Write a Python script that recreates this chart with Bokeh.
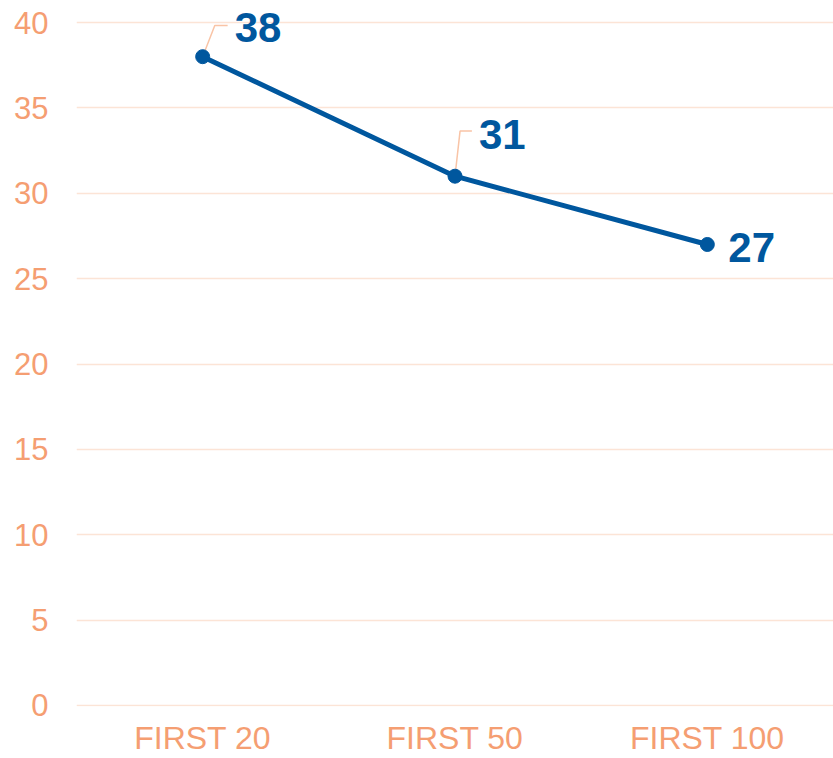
from bokeh.plotting import figure
from bokeh.models import Range1d, FixedTicker, ColumnDataSource
from bokeh.embed import file_html
from bokeh.resources import INLINE
from bokeh.core.properties import value

categories = ["FIRST 20", "FIRST 50", "FIRST 100"]
values = [38, 31, 27]
y_ticks = [0, 5, 10, 15, 20, 25, 30, 35, 40]

# label placement (screen px) and leader offsets (data units)
label_dx = [32, 24, 21]
label_dy = [-29, -42, 3]
leader = [(0.048, 0.099, 1.82), (0.020, 0.067, 2.64), None]

xs = [i + 0.5 for i in range(len(categories))]
src = ColumnDataSource(dict(x=xs, y=values, t=[str(v) for v in values],
                            dx=label_dx, dy=label_dy))

p = figure(width=833, height=758, output_backend="svg", toolbar_location=None,
           x_range=Range1d(0, 3.0), y_range=Range1d(-0.06, 41.29),
           min_border_left=76, min_border_right=0, min_border_top=0,
           min_border_bottom=45)
p.outline_line_color = None
p.background_fill_color = "white"

lx, ly = [], []
for i, l in enumerate(leader):
    if l is None:
        continue
    x0, y0 = xs[i], values[i]
    lx.append([x0, x0 + l[0], x0 + l[1]])
    ly.append([y0, y0 + l[2], y0 + l[2]])
p.multi_line(lx, ly, line_color="#F9C4A6", line_width=1.5)

p.line("x", "y", source=src, line_color="#00579E", line_width=5)
p.scatter("x", "y", source=src, size=14, fill_color="#00579E", line_color="#00579E")
p.text("x", "y", text="t", source=src, x_offset="dx", y_offset="dy",
       text_align="left", text_baseline="middle", text_color="#00579E",
       text_font=value("Liberation Sans"), text_font_style="bold",
       text_font_size="42px")

p.xaxis.ticker = FixedTicker(ticks=xs)
p.xaxis.major_label_overrides = {x: c for x, c in zip(xs, categories)}
p.yaxis.ticker = FixedTicker(ticks=y_ticks)
for ax in (p.xaxis[0], p.yaxis[0]):
    ax.axis_line_color = None
    ax.major_tick_line_color = None
    ax.minor_tick_line_color = None
    ax.major_tick_out = 0
    ax.major_tick_in = 0
    ax.major_label_text_color = "#F59E72"
    ax.major_label_text_font = "Liberation Sans"
p.yaxis.major_label_text_font_size = "31px"
p.xaxis.major_label_text_font_size = "32px"
p.yaxis.major_label_standoff = 28
p.xaxis.major_label_standoff = 13
p.xgrid.grid_line_color = None
p.ygrid.ticker = FixedTicker(ticks=y_ticks)
p.ygrid.grid_line_color = "#FCE4D6"
p.ygrid.grid_line_width = 1.5

open("out.html", "w").write(file_html(p, INLINE))
